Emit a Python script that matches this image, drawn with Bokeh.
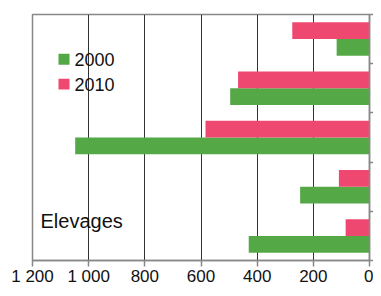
from bokeh.plotting import figure
from bokeh.models import Range1d, FixedTicker, Label, BoxAnnotation, ColumnDataSource
from bokeh.transform import dodge
from bokeh.embed import file_html
from bokeh.resources import INLINE
import numpy as np

categories = ["c1", "c2", "c3", "c4", "c5"]
values_2000 = [117, 496, 1048, 247, 430]
values_2010 = [275, 468, 584, 109, 85]
x_ticks = [0, 200, 400, 600, 800, 1000, 1200]
x_tick_labels = ["0", "200", "400", "600", "800", "1 000", "1 200"]
series_names = ["2000", "2010"]
colors = ["#55A846", "#EF4870"]
annotation = "Elevages"

FONT = "Liberation Sans"
pos = (np.arange(len(categories)) + 0.5).tolist()
source = ColumnDataSource(dict(y=pos, v2000=values_2000, v2010=values_2010))

p = figure(width=373, height=288, output_backend="svg", toolbar_location=None,
           x_range=Range1d(1200, 0), y_range=Range1d(len(categories), 0),
           y_axis_location="right", min_border_left=32, min_border_right=4,
           min_border_top=14, min_border_bottom=24)

g = p.hbar(y=dodge("y", 0.17), right="v2000", left=0, height=0.34, source=source,
           fill_color=colors[0], line_color=None)
r = p.hbar(y=dodge("y", -0.17), right="v2010", left=0, height=0.34, source=source,
           fill_color=colors[1], line_color=None)

p.outline_line_color = "#888888"
p.outline_line_width = 1.5
p.background_fill_color = "white"
p.border_fill_color = "white"

xa = p.xaxis[0]
xa.ticker = FixedTicker(ticks=x_ticks)
xa.major_label_overrides = {t: l for t, l in zip(x_ticks, x_tick_labels)}
xa.major_label_text_font = FONT
xa.major_label_text_font_size = "17px"
xa.major_label_text_color = "#111111"
xa.major_label_standoff = 0
xa.major_tick_out = 6
xa.major_tick_in = 0
xa.minor_tick_out = 0
xa.minor_tick_in = 0
xa.axis_line_color = "#888888"
xa.axis_line_width = 1.5
xa.major_tick_line_color = "#888888"
xa.major_tick_line_width = 1.5

ya = p.yaxis[0]
ya.ticker = FixedTicker(ticks=list(range(len(categories) + 1)))
ya.major_label_overrides = {i: "" for i in range(len(categories) + 1)}
ya.major_label_standoff = 0
ya.major_tick_out = 4
ya.major_tick_in = 0
ya.minor_tick_out = 0
ya.minor_tick_in = 0
ya.axis_line_color = "#888888"
ya.axis_line_width = 1.5
ya.major_tick_line_color = "#888888"
ya.major_tick_line_width = 1.5

p.xgrid.ticker = FixedTicker(ticks=x_ticks)
p.xgrid.grid_line_color = "#333333"
p.xgrid.grid_line_width = 1
p.ygrid.grid_line_color = None

# legend (manual, square swatches): x in pixels from frame left, y in category units
for i, (name, col) in enumerate(zip(series_names, colors)):
    top = 0.80 + i * 0.505
    p.add_layout(BoxAnnotation(left=26, right=37, top=top, bottom=top + 0.22,
                               left_units="screen", right_units="screen",
                               top_units="data", bottom_units="data",
                               fill_color=col, fill_alpha=1, line_color=None,
                               level="overlay"))
    p.add_layout(Label(x=42, y=top + 0.12, x_units="screen", y_units="data",
                       text=name, text_font=FONT, text_font_size="18px",
                       text_color="#111111", text_baseline="middle"))

p.add_layout(Label(x=8, y=4.19, x_units="screen", y_units="data", text=annotation,
                   text_font=FONT, text_font_size="20px",
                   text_color="#111111", text_baseline="middle"))

open("out.html", "w").write(file_html(p, INLINE))
